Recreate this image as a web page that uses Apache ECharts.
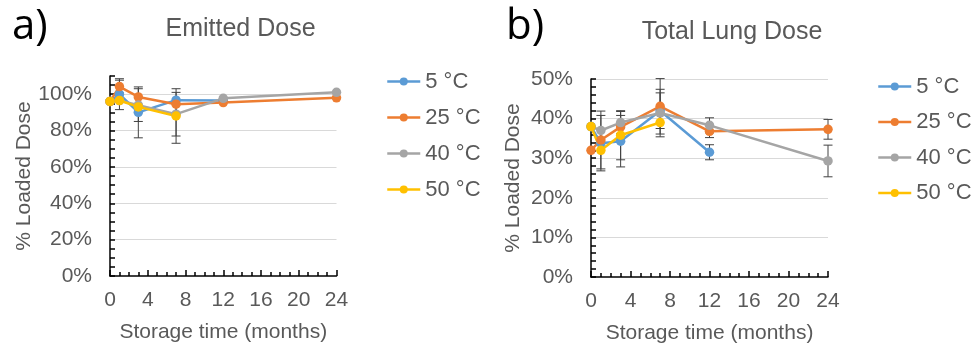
<!DOCTYPE html>
<html>
<head>
<meta charset="utf-8">
<script src="https://cdn.jsdelivr.net/npm/echarts@6/dist/echarts.min.js"></script>
<style>
html,body{margin:0;padding:0;background:#fff;}
#c{width:971px;height:346px;}
</style>
</head>
<body>
<div id="c"></div>
<script>
// ---- data ----
const months = [0, 1, 3, 7, 12, 24];
const seriesNames = ['5 °C', '25 °C', '40 °C', '50 °C'];
const xTicks = [0, 4, 8, 12, 16, 20, 24];

// a) Emitted Dose (% loaded dose)
const emit5  = [96, 100, 90, 96.7, 96.5, null];
const emit25 = [96, 104.2, 98.5, 94.5, 95.4, 98];
const emit40 = [96, 96.5, 94, 89, 97.7, 101];
const emit50 = [96, 96.5, 93, 88, null, null];
const emitErr5  = [0, 8.5, 14, 0, 0, 0];
const emitErr25 = [0, 3.5, 0, 0, 0, 0];
const emitErr40 = [0, 0, 9, 12, 0, 0];
const emitErr50 = [0, 0, 0, 15, 0, 0];

// b) Total Lung Dose (% loaded dose)
const lung5  = [38, 33.8, 34.3, 42, 31.5, null];
const lung25 = [32, 34.6, 37.9, 43.1, 36.8, 37.3];
const lung40 = [38, 37, 39, 41.4, 38.3, 29.3];
const lung50 = [38, 32, 35.8, 39, null, null];
const lungErr5  = [0, 7, 6.5, 4.5, 1.9, 0];
const lungErr25 = [0, 7.3, 0, 7, 1.6, 2.5];
const lungErr40 = [0, 0, 2.8, 6, 1.9, 4];
const lungErr50 = [0, 0, 6.2, 0, 0, 0];

// ---- styles ----
const colors = ['#5B9BD5', '#ED7D31', '#A5A5A5', '#FFC000'];
const FONT = "'Liberation Sans', Arial, sans-serif";
const TXT = '#595959';

function pairs(vals) { return months.map((m, i) => [m, vals[i]]); }
function errData(valsList, errList) {
  const out = [];
  valsList.forEach((vals, s) => {
    months.forEach((m, i) => {
      if (vals[i] != null && errList[s][i] > 0) out.push([m, vals[i], errList[s][i]]);
    });
  });
  return out;
}

function errSeries(idx, data) {
  return {
    type: 'custom', xAxisIndex: idx, yAxisIndex: idx, z: 1, silent: true,
    data: data,
    renderItem: function (params, api) {
      const x = api.value(0), y = api.value(1), e = api.value(2);
      const top = api.coord([x, y + e]);
      const bot = api.coord([x, y - e]);
      const w = 4.5;
      const st = { stroke: '#404040', lineWidth: 1 };
      return {
        type: 'group',
        children: [
          { type: 'line', shape: { x1: top[0], y1: top[1], x2: bot[0], y2: bot[1] }, style: st },
          { type: 'line', shape: { x1: top[0] - w, y1: top[1], x2: top[0] + w, y2: top[1] }, style: st },
          { type: 'line', shape: { x1: bot[0] - w, y1: bot[1], x2: bot[0] + w, y2: bot[1] }, style: st }
        ]
      };
    }
  };
}

function lineSeries(idx, name, vals, color) {
  return {
    type: 'line', name: name, xAxisIndex: idx, yAxisIndex: idx, z: 2,
    data: pairs(vals),
    symbol: 'circle', symbolSize: 9.5,
    itemStyle: { color: color },
    lineStyle: { color: color, width: 2.5 },
    connectNulls: false
  };
}

function xAxisCfg(idx) {
  return {
    type: 'value', gridIndex: idx, min: 0, max: 24, interval: 4,
    name: 'Storage time (months)', nameLocation: 'middle', nameGap: 46,
    nameTextStyle: { fontFamily: FONT, fontSize: 21, color: TXT },
    axisLine: { show: true, onZero: false, lineStyle: { color: '#000', width: 1.5 } },
    axisTick: { show: true, inside: true, length: 6, lineStyle: { color: '#000', width: 1.5 } },
    minorTick: { show: true, splitNumber: 4, length: 4, lineStyle: { color: '#000', width: 1.5 } },
    axisLabel: { fontFamily: FONT, fontSize: 21, color: TXT, margin: 14 },
    splitLine: { show: false }
  };
}

function yAxisCfg(idx, max, interval, minorSplit, gap) {
  return {
    type: 'value', gridIndex: idx, min: 0, max: max, interval: interval,
    name: '% Loaded Dose', nameLocation: 'middle', nameGap: gap,
    nameTextStyle: { fontFamily: FONT, fontSize: 21, color: TXT },
    axisLine: { show: true, lineStyle: { color: '#000', width: 1.5 } },
    axisTick: { show: true, inside: true, length: 5, lineStyle: { color: '#000', width: 1.5 } },
    minorTick: { show: true, splitNumber: minorSplit, length: 5, lineStyle: { color: '#000', width: 1.5 } },
    axisLabel: { fontFamily: FONT, fontSize: 21, color: TXT, margin: 18, formatter: '{value}%', showMaxLabel: max % interval === 0 },
    splitLine: { show: true, showMinLine: false, showMaxLine: max % interval === 0, lineStyle: { color: '#D9D9D9', width: 1 } }
  };
}

const chart = echarts.init(document.getElementById('c'), null, { renderer: 'canvas' });

const legendCommon = {
  orient: 'vertical', itemWidth: 33, itemHeight: 10,
  lineStyle: { width: 2.5 },
  textStyle: { fontFamily: FONT, fontSize: 22, color: TXT, lineHeight: 21 },
  data: seriesNames, selectedMode: false
};

const option = {
  animation: false,
  backgroundColor: '#fff',
  graphic: [
    { type: 'text', left: 12, top: 6, style: { text: 'a)', font: "42px 'Open Sans', 'Noto Sans', sans-serif", fill: '#000' } },
    { type: 'text', left: 506, top: 6, style: { text: 'b)', font: "42px 'Open Sans', 'Noto Sans', sans-serif", fill: '#000' } },
    { type: 'text', x: 240.5, y: 29.5, style: { text: 'Emitted Dose', font: "25px 'Liberation Sans', Arial, sans-serif", fill: TXT, textAlign: 'center', textVerticalAlign: 'middle' } },
    { type: 'text', x: 732, y: 32, style: { text: 'Total Lung Dose', font: "25px 'Liberation Sans', Arial, sans-serif", fill: TXT, textAlign: 'center', textVerticalAlign: 'middle' } }
  ],
  grid: [
    { left: 110, top: 76, width: 226.5, height: 200, outerBoundsMode: 'none', containLabel: false },
    { left: 591, top: 79, width: 237, height: 198, outerBoundsMode: 'none', containLabel: false }
  ],
  xAxis: [xAxisCfg(0), xAxisCfg(1)],
  yAxis: [yAxisCfg(0, 110, 20, 4, 75), yAxisCfg(1, 50, 10, 5, 67)],
  legend: [
    Object.assign({ left: 381, top: 65.5, itemGap: 14 }, legendCommon),
    Object.assign({ left: 872, top: 70.5, itemGap: 13.5 }, legendCommon)
  ],
  series: [
    errSeries(0, errData([emit5, emit25, emit40, emit50], [emitErr5, emitErr25, emitErr40, emitErr50])),
    errSeries(1, errData([lung5, lung25, lung40, lung50], [lungErr5, lungErr25, lungErr40, lungErr50])),
    lineSeries(0, seriesNames[0], emit5, colors[0]),
    lineSeries(0, seriesNames[1], emit25, colors[1]),
    lineSeries(0, seriesNames[2], emit40, colors[2]),
    lineSeries(0, seriesNames[3], emit50, colors[3]),
    lineSeries(1, seriesNames[0], lung5, colors[0]),
    lineSeries(1, seriesNames[1], lung25, colors[1]),
    lineSeries(1, seriesNames[2], lung40, colors[2]),
    lineSeries(1, seriesNames[3], lung50, colors[3])
  ]
};
chart.setOption(option);
</script>
</body>
</html>
